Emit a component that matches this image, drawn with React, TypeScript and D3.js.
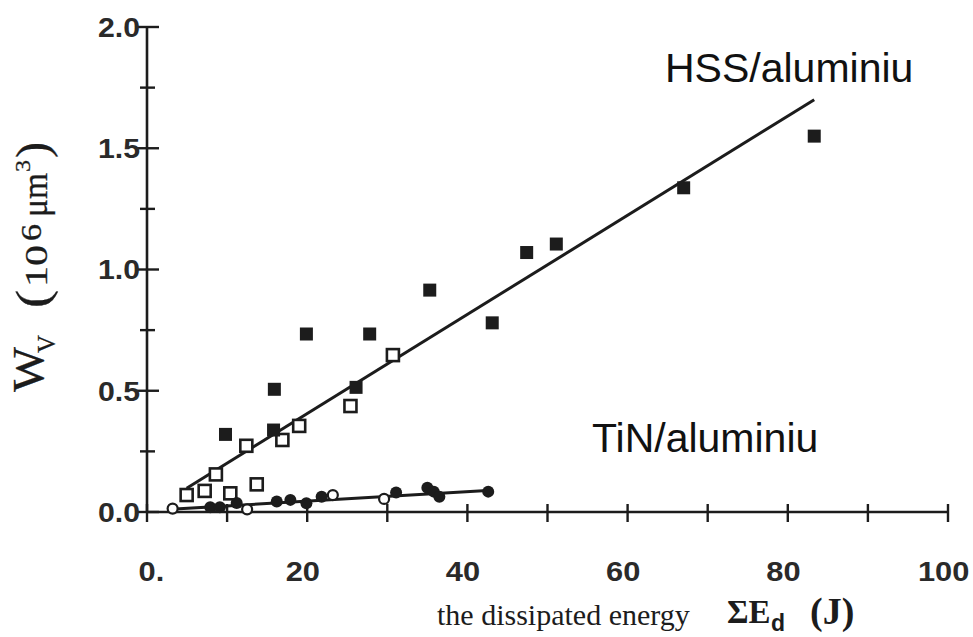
import React from "react";
import * as d3 from "d3";

const width = 973;
const height = 637;

// [energy (J), volume (10^6 um^3)]
const hssFilled = [
  [9.8, 0.32], [15.8, 0.338], [15.9, 0.506], [19.9, 0.734], [26.1, 0.514],
  [27.8, 0.734], [35.3, 0.915], [43.1, 0.78], [47.4, 1.07], [51.1, 1.105],
  [67.0, 1.337], [83.3, 1.55]
];
const hssOpen = [
  [4.95, 0.07], [7.2, 0.087], [8.6, 0.155], [10.4, 0.077], [12.4, 0.273],
  [13.7, 0.114], [16.9, 0.297], [19.0, 0.355], [25.4, 0.437], [30.7, 0.647]
];
const tinFilled = [
  [7.9, 0.02], [9.1, 0.02], [11.2, 0.037], [16.2, 0.043], [17.9, 0.05],
  [19.9, 0.036], [21.8, 0.063], [31.1, 0.08], [35.0, 0.1], [35.8, 0.084],
  [36.5, 0.063], [42.6, 0.084]
];
const tinOpen = [[3.2, 0.014], [12.5, 0.011], [23.2, 0.07], [29.6, 0.054]];

const hssLine = [[4.95, 0.098], [83.3, 1.7]];
const tinLine = [[3.5, 0.012], [43, 0.09]];

const xTicks = [0, 10, 20, 30, 40, 50, 60, 70, 80, 90, 100];
const xTickLabels = ["0.", "20", "40", "60", "80", "100"];
const yTicks = [0, 0.25, 0.5, 0.75, 1, 1.25, 1.5, 1.75, 2];
const yTickLabels = ["0.0", "0.5", "1.0", "1.5", "2.0"];

const ink = "#1c1c1c";
const sans = "Liberation Sans, Arial, sans-serif";
const serif = "Liberation Serif, Times New Roman, serif";

const x = d3.scaleLinear().domain([0, 100]).range([147, 948]);
const y = d3.scaleLinear().domain([0, 2]).range([512, 27]);

const line = d3.line<number[]>().x(d => x(d[0])).y(d => y(d[1]));

export default function App() {
  return (
    <svg width={width} height={height} style={{ position: "absolute", left: 0, top: 0, background: "#fff" }}>
      {/* axes */}
      <line x1={x(0)} x2={x(100)} y1={y(0)} y2={y(0)} stroke={ink} strokeWidth={2.6} />
      <line x1={x(0)} x2={x(0)} y1={y(0)} y2={y(2)} stroke={ink} strokeWidth={2.6} />
      {xTicks.map(t => (
        <line key={"xt" + t} x1={x(t)} x2={x(t)} y1={y(0) - 8} y2={y(0) + 10} stroke={ink} strokeWidth={2.4} />
      ))}
      {yTicks.map(t => (
        <line key={"yt" + t} x1={x(0) - (t % 0.5 === 0 ? 10 : 7)} x2={x(0) + (t % 0.5 === 0 ? 12 : 8)} y1={y(t)} y2={y(t)} stroke={ink} strokeWidth={2.4} />
      ))}
      {xTickLabels.map((s, i) => (
        <text key={"xl" + s} x={x(i * 20) + (i === 0 ? 4 : -4)} y={581} textAnchor="middle"
          fontFamily={sans} fontSize={28} fontWeight="bold" fill="#2a2a2a"
          transform={`translate(${x(i * 20)},0) scale(1.1,1) translate(${-x(i * 20)},0)`}>{s}</text>
      ))}
      {yTickLabels.map((s, i) => (
        <text key={"yl" + s} x={140} y={y(i * 0.5) + 10} textAnchor="end"
          fontFamily={sans} fontSize={28} fontWeight="bold" fill="#2a2a2a"
          transform={`translate(140,0) scale(1.08,1) translate(-140,0)`}>{s}</text>
      ))}

      {/* fit lines */}
      <path d={line(hssLine) || ""} fill="none" stroke={ink} strokeWidth={3} />
      <path d={line(tinLine) || ""} fill="none" stroke={ink} strokeWidth={3} />

      {/* markers */}
      {hssOpen.map((d, i) => (
        <rect key={"ho" + i} x={x(d[0]) - 6} y={y(d[1]) - 6} width={12} height={12} fill="#fff" stroke={ink} strokeWidth={2.6} />
      ))}
      {hssFilled.map((d, i) => (
        <rect key={"hf" + i} x={x(d[0]) - 6.5} y={y(d[1]) - 6.5} width={13} height={13} fill={ink} />
      ))}
      {tinOpen.map((d, i) => (
        <circle key={"to" + i} cx={x(d[0])} cy={y(d[1])} r={5} fill="#fff" stroke={ink} strokeWidth={2.2} />
      ))}
      {tinFilled.map((d, i) => (
        <circle key={"tf" + i} cx={x(d[0])} cy={y(d[1])} r={6} fill={ink} />
      ))}

      {/* series labels */}
      <text x={665} y={82} fontFamily={sans} fontSize={41} fill="#111">HSS/aluminiu</text>
      <text x={592} y={452} fontFamily={sans} fontSize={41} fill="#111">TiN/aluminiu</text>

      {/* y axis title, laid out along the rotated baseline */}
      <g transform="translate(46,392) rotate(-90)" fontFamily={serif} fill={ink} stroke={ink} strokeWidth={0.3}>
        <text x={0} y={-3} fontSize={44} textLength={45} lengthAdjust="spacingAndGlyphs">W</text>
        <text x={39} y={9} fontSize={26} textLength={18} lengthAdjust="spacingAndGlyphs">V</text>
        <text x={84} y={2} fontSize={46} textLength={18} lengthAdjust="spacingAndGlyphs">(</text>
        <text x={105} y={1} fontSize={31} textLength={42} lengthAdjust="spacingAndGlyphs">10</text>
        <text x={151} y={-5} fontSize={29} textLength={17} lengthAdjust="spacingAndGlyphs">6</text>
        <text x={175} y={1} fontSize={36} textLength={44} lengthAdjust="spacingAndGlyphs">μm</text>
        <text x={220} y={-16} fontSize={21} textLength={12} lengthAdjust="spacingAndGlyphs">3</text>
        <text x={234} y={2} fontSize={46} textLength={16} lengthAdjust="spacingAndGlyphs">)</text>
      </g>

      {/* x axis title */}
      <text x={437} y={625} fontFamily={serif} fontSize={30} fill={ink}>the dissipated energy</text>
      <g fontFamily={serif} fill={ink}>
        <text x={727} y={623} fontSize={33} fontWeight="bold">ΣE</text>
        <text x={771} y={631} fontSize={23} fontFamily={sans} fontWeight="bold">d</text>
        <text x={810} y={624} fontSize={38} fontWeight="bold">(J)</text>
      </g>
    </svg>
  );
}
